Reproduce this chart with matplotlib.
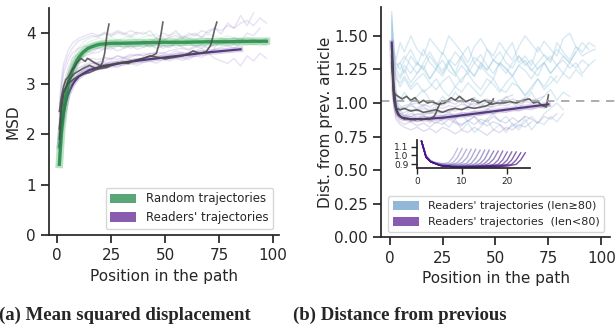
import matplotlib
matplotlib.use("Agg")
import matplotlib.pyplot as plt
from matplotlib.patches import Patch

# ---------------- data ----------------
# common sampling positions for the faint individual trajectories
GRID = [1, 2, 3, 5, 7, 10, 13, 16, 19, 22, 25, 28, 31, 34, 37, 40, 43, 46, 49,
        52, 55, 58, 61, 64, 67, 70, 73, 76, 79, 82, 85, 88, 91, 94, 97]

# (a) MSD: random trajectories
msd_random_x = [1, 2, 3, 4, 5, 6, 7, 8, 9, 10, 12, 14, 16, 18, 20, 25, 30, 40,
                50, 60, 70, 80, 90, 97]
msd_random_y = [1.40, 2.05, 2.45, 2.75, 2.97, 3.12, 3.25, 3.36, 3.45, 3.52, 3.62,
                3.69, 3.73, 3.76, 3.78, 3.80, 3.80, 3.81, 3.82, 3.82, 3.83, 3.83,
                3.84, 3.84]
msd_random_lines = [
    [1.4, 2.1, 2.5, 3.0, 3.3, 3.55, 3.7, 3.78, 3.82, 3.85, 3.8, 3.88, 3.83, 3.9, 3.85, 3.8, 3.88, 3.84,
     3.9, 3.82, 3.86, 3.9, 3.84, 3.88, 3.82, 3.9, 3.86, 3.8, 3.88, 3.85, 3.9, 3.84, 3.88, 3.8, 3.85],
    [1.4, 1.95, 2.35, 2.85, 3.2, 3.45, 3.6, 3.68, 3.72, 3.75, 3.78, 3.74, 3.8, 3.76, 3.72, 3.78, 3.74, 3.8,
     3.76, 3.72, 3.78, 3.75, 3.8, 3.74, 3.78, 3.82, 3.76, 3.8, 3.74, 3.78, 3.82, 3.76, 3.8, 3.75, 3.78],
    [1.45, 2.3, 2.7, 3.2, 3.5, 3.72, 3.85, 3.92, 3.95, 3.98, 3.94, 4.0, 3.96, 3.92, 3.98, 4.02, 3.95, 3.98,
     3.92, 3.96, 4.0, 3.94, 3.9, 3.96, 3.92, 3.98, 3.94, 3.9, 3.95, 3.9, 3.86, 3.92, 3.88, 3.84, 3.9],
    [1.4, 2.0, 2.4, 2.9, 3.25, 3.5, 3.65, 3.72, 3.7, 3.76, 3.72, 3.78, 3.7, 3.74, 3.78, 3.72, 3.76, 3.7,
     3.74, 3.78, 3.72, 3.76, 3.8, 3.74, 3.78, 3.72, 3.8, 3.76, 3.84, 3.78, 3.74, 3.8, 3.76, 3.8, 3.75],
    [1.42, 2.2, 2.6, 3.1, 3.4, 3.65, 3.78, 3.85, 3.9, 3.88, 3.92, 3.86, 3.9, 3.94, 3.88, 3.92, 3.96, 3.9,
     3.86, 3.92, 3.88, 3.94, 3.9, 3.86, 3.92, 3.88, 3.84, 3.9, 3.86, 3.92, 3.88, 3.84, 3.86, 3.82, 3.8],
    [1.4, 2.05, 2.45, 2.95, 3.3, 3.55, 3.68, 3.75, 3.8, 3.82, 3.86, 3.82, 3.78, 3.84, 3.8, 3.86, 3.82, 3.78,
     3.84, 3.8, 3.86, 3.82, 3.88, 3.84, 3.8, 3.86, 3.82, 3.88, 3.84, 3.8, 3.86, 3.82, 3.78, 3.84, 3.88],
]

# (a) MSD: readers' trajectories
msd_readers_x = [1, 2, 3, 4, 5, 6, 7, 8, 10, 12, 15, 20, 25, 30, 40, 50, 60, 70, 75, 85]
msd_readers_y = [1.75, 2.15, 2.40, 2.62, 2.78, 2.88, 2.97, 3.04, 3.14, 3.20, 3.27, 3.33,
                 3.37, 3.41, 3.47, 3.52, 3.57, 3.62, 3.64, 3.68]
msd_readers_lines = [
    [2.0, 2.6, 2.9, 3.2, 3.35, 3.5, 3.55, 3.6, 3.62, 3.7, 3.68, 3.75, 3.72, 3.8, 3.78, 3.85, 3.82, 3.9,
     3.85, 3.92, 3.95, 3.9, 4.0, 3.95, 4.05, 4.0, 4.1, 4.05, 4.15, 4.1, 4.2, 4.25, 4.15, 4.3, 4.2],
    [1.7, 2.3, 2.6, 2.95, 3.1, 3.25, 3.35, 3.4, 3.42, 3.45, 3.5, 3.48, 3.52, 3.55, 3.58, 3.55, 3.6, 3.62,
     3.6, 3.65, 3.68, 3.7, 3.66, 3.72, 3.75, 3.7, 3.78, 3.82, 3.8, 3.9, 3.85, 4.0, 3.95, 4.1],
    [2.6, 3.1, 3.4, 3.65, 3.8, 3.9, 3.95, 4.0, 3.95, 4.02, 3.98, 4.05, 4.0, 3.95, 4.02, 3.98, 4.05, 3.9,
     4.0, 3.95, 4.05, 3.9, 3.95, 4.0, 3.92, 4.05, 4.1, 3.98, 4.2, 4.1, 4.35, 4.15, 4.4],
    [1.5, 2.1, 2.5, 2.85, 3.05, 3.2, 3.3, 3.35, 3.4, 3.38, 3.45, 3.42, 3.5, 3.48, 3.45, 3.52, 3.55, 3.5,
     3.58, 3.55, 3.6, 3.62, 3.58, 3.65, 3.7, 3.62, 3.68, 3.72, 3.75, 3.7, 3.8],
    [2.3, 2.9, 3.2, 3.45, 3.6, 3.7, 3.75, 3.72, 3.8, 3.78, 3.75, 3.82, 3.78, 3.7, 3.75, 3.8, 3.72, 3.78,
     3.7, 3.75, 3.8, 3.72, 3.68, 3.75, 3.7, 3.8, 3.72, 3.85, 3.9],
    [1.8, 2.4, 2.75, 3.05, 3.2, 3.32, 3.38, 3.45, 3.42, 3.5, 3.48, 3.55, 3.5, 3.52, 3.58, 3.55, 3.6, 3.56,
     3.62, 3.58, 3.65, 3.6, 3.55, 3.62, 3.66, 3.6, 3.7],
    [1.6, 2.2, 2.55, 2.9, 3.05, 3.15, 3.2, 3.25, 3.28, 3.3, 3.35, 3.32, 3.38, 3.4, 3.36, 3.42, 3.45, 3.4,
     3.48, 3.45, 3.5, 3.46, 3.52, 3.55],
    [2.1, 2.7, 3.0, 3.3, 3.5, 3.6, 3.65, 3.62, 3.7, 3.68, 3.72, 3.65, 3.7, 3.75, 3.68, 3.72, 3.78, 3.7,
     3.75, 3.72, 3.8],
    [1.9, 2.5, 2.8, 3.1, 3.25, 3.4, 3.45, 3.5, 3.48, 3.52, 3.5, 3.55, 3.52, 3.58, 3.55, 3.6, 3.58, 3.62],
    [2.4, 3.0, 3.3, 3.55, 3.7, 3.85, 3.9, 3.95, 3.92, 4.0, 3.95, 4.02, 3.98, 4.05, 4.0],
    [1.7, 2.3, 2.65, 3.0, 3.15, 3.3, 3.35, 3.4, 3.38, 3.42, 3.4, 3.45],
    [1.6, 2.2, 2.55, 2.9, 3.05, 3.2, 3.28, 3.3, 3.35, 3.38, 3.4, 3.42, 3.4, 3.45, 3.48, 3.45, 3.5, 3.48,
     3.52, 3.5, 3.55, 3.5, 3.48, 3.55, 3.52, 3.6, 3.5, 3.45, 3.4, 3.5, 3.35, 3.55, 3.45, 3.6, 3.5],
]

# (a) three highlighted example paths (length 24, 49, 74)
msd_ex1_x = list(range(1, 25))
msd_ex1_y = [2.45, 2.75, 2.95, 3.08, 3.12, 3.2, 3.28, 3.32, 3.4, 3.45, 3.5, 3.47, 3.44, 3.5,
             3.48, 3.45, 3.42, 3.4, 3.38, 3.35, 3.42, 3.6, 3.95, 4.18]
msd_ex2_x = [1, 2, 3, 5, 8, 10, 13, 15, 18, 20, 23, 25, 28, 30, 33, 35, 38, 40, 42, 44, 46, 47, 48, 49]
msd_ex2_y = [2.1, 2.6, 2.85, 3.0, 3.1, 3.15, 3.2, 3.22, 3.28, 3.3, 3.32, 3.36, 3.4, 3.42, 3.4,
             3.45, 3.48, 3.5, 3.53, 3.55, 3.6, 3.75, 3.95, 4.22]
msd_ex3_x = [1, 2, 3, 5, 8, 10, 12, 15, 18, 20, 25, 30, 35, 40, 43, 47, 50, 54, 58, 61, 63, 66,
             69, 71, 72, 73, 74]
msd_ex3_y = [1.9, 2.5, 2.8, 3.05, 3.2, 3.25, 3.3, 3.36, 3.3, 3.35, 3.38, 3.42, 3.45, 3.5, 3.55,
             3.52, 3.49, 3.52, 3.55, 3.6, 3.65, 3.6, 3.63, 3.75, 3.9, 4.08, 4.22]

# (b) distance from previous article
RANDOM_LEVEL = 1.016
dist_long_lines = [
    [1.62, 1.35, 1.28, 1.3, 1.22, 1.35, 1.28, 1.4, 1.3, 1.25, 1.38, 1.3, 1.22, 1.35, 1.42, 1.3, 1.25, 1.4,
     1.32, 1.28, 1.38, 1.45, 1.3, 1.35, 1.28, 1.42, 1.35, 1.3, 1.45, 1.38, 1.32, 1.42, 1.35, 1.38, 1.4],
    [1.55, 1.3, 1.22, 1.18, 1.25, 1.15, 1.22, 1.28, 1.18, 1.25, 1.2, 1.3, 1.22, 1.15, 1.25, 1.2, 1.28, 1.22,
     1.18, 1.3, 1.25, 1.2, 1.28, 1.32, 1.25, 1.2, 1.3, 1.35, 1.28, 1.22, 1.3, 1.26, 1.32, 1.28],
    [1.68, 1.4, 1.32, 1.45, 1.38, 1.5, 1.4, 1.35, 1.48, 1.42, 1.36, 1.5, 1.44, 1.38, 1.3, 1.42, 1.48, 1.4,
     1.35, 1.45, 1.38, 1.32, 1.42, 1.5, 1.44, 1.38, 1.46, 1.4, 1.35, 1.48, 1.52, 1.42, 1.38, 1.45, 1.42],
    [1.5, 1.25, 1.2, 1.12, 1.18, 1.1, 1.15, 1.08, 1.12, 1.18, 1.1, 1.05, 1.12, 1.08, 1.15, 1.1, 1.05, 1.12,
     1.18, 1.1, 1.08, 1.15, 1.12, 1.05, 1.1, 1.18, 1.12, 1.2, 1.15, 1.22, 1.18, 1.25, 1.2],
    [1.6, 1.32, 1.25, 1.3, 1.35, 1.28, 1.22, 1.3, 1.38, 1.3, 1.24, 1.32, 1.28, 1.35, 1.26, 1.2, 1.3, 1.25,
     1.32, 1.28, 1.22, 1.3, 1.35, 1.28, 1.32, 1.25, 1.3, 1.22, 1.28, 1.35, 1.3, 1.38],
    [1.45, 1.15, 1.08, 1.02, 1.08, 1.0, 1.05, 1.1, 1.02, 0.98, 1.05, 1.0, 1.08, 1.02, 0.96, 1.04, 1.0, 0.95,
     1.02, 0.98, 1.05, 1.0, 0.96, 1.02, 1.08, 1.0, 1.05, 1.1, 1.02, 1.08, 1.05],
    [1.4, 1.1, 1.0, 0.95, 0.9, 0.95, 0.88, 0.92, 0.85, 0.9, 0.86, 0.82, 0.88, 0.8, 0.85, 0.78, 0.82, 0.88,
     0.8, 0.84, 0.78, 0.85, 0.82, 0.88, 0.8, 0.86, 0.84, 0.9, 0.86, 0.92],
    [1.58, 1.3, 1.25, 1.2, 1.28, 1.22, 1.3, 1.25, 1.18, 1.26, 1.32, 1.24, 1.2, 1.28, 1.22, 1.3, 1.36, 1.28,
     1.22, 1.3, 1.26, 1.2, 1.28, 1.24, 1.18, 1.26, 1.3, 1.22, 1.28, 1.32, 1.26, 1.3, 1.22, 1.28, 1.32],
    [1.52, 1.25, 1.18, 1.15, 1.2, 1.12, 1.18, 1.22, 1.15, 1.1, 1.16, 1.2, 1.12, 1.18, 1.22, 1.15, 1.1, 1.18,
     1.14, 1.08, 1.15, 1.2, 1.12, 1.06, 1.12, 1.18, 1.1, 1.15, 1.2],
    [1.65, 1.38, 1.3, 1.25, 1.32, 1.4, 1.3, 1.25, 1.35, 1.28, 1.22, 1.3, 1.38, 1.32, 1.26, 1.34, 1.3, 1.24,
     1.32, 1.38, 1.3, 1.26, 1.35, 1.3, 1.24, 1.3, 1.36, 1.32, 1.4, 1.35, 1.3, 1.38, 1.45, 1.4],
    [1.48, 1.12, 1.02, 0.98, 0.95, 1.0, 0.94, 0.98, 0.92, 0.96, 0.9, 0.94, 0.88, 0.92, 0.86, 0.9, 0.84, 0.88,
     0.92, 0.86, 0.9, 0.84, 0.8, 0.86, 0.9, 0.85, 0.92, 0.96, 1.0, 0.95],
]
dist_short_lines = [
    [1.4, 1.05, 0.95, 0.92, 0.93, 0.95, 0.94, 0.96, 0.95, 0.97, 0.96, 0.98, 0.97, 0.99, 0.98, 1.0, 0.98,
     1.01, 0.99, 1.02, 1.0, 1.03, 1.01, 1.04, 1.02, 1.03, 1.05],
    [1.38, 1.0, 0.92, 0.88, 0.87, 0.88, 0.86, 0.88, 0.87, 0.89, 0.88, 0.9, 0.89, 0.91, 0.9, 0.92, 0.91,
     0.93, 0.92, 0.94, 0.93, 0.95, 0.94, 0.96, 0.95, 0.97, 0.96, 0.98],
    [1.35, 0.98, 0.88, 0.84, 0.82, 0.8, 0.82, 0.79, 0.81, 0.78, 0.82, 0.8, 0.77, 0.8, 0.78, 0.82, 0.79,
     0.76, 0.8, 0.78, 0.82, 0.8, 0.84, 0.82, 0.86],
    [1.42, 1.04, 0.96, 0.94, 0.96, 0.98, 0.96, 0.99, 0.97, 1.0, 0.98, 1.01, 0.99, 1.02, 1.0, 0.98, 1.01,
     1.03, 1.0, 1.02, 1.04, 1.06],
    [1.4, 1.02, 0.93, 0.9, 0.89, 0.9, 0.88, 0.9, 0.89, 0.91, 0.9, 0.92, 0.91, 0.93, 0.92, 0.94, 0.93, 0.95, 0.98],
    [1.36, 1.0, 0.9, 0.86, 0.84, 0.86, 0.83, 0.85, 0.82, 0.86, 0.84, 0.88, 0.85, 0.83, 0.87, 0.84, 0.88,
     0.86, 0.9, 0.87, 0.85, 0.89, 0.86, 0.9, 0.88, 0.85, 0.9, 0.88, 0.92],
    [1.44, 1.06, 0.98, 0.96, 0.98, 0.99, 1.0, 0.98, 1.01, 1.0, 1.02, 1.01, 1.03, 1.0, 1.02, 1.04],
    [1.38, 1.02, 0.94, 0.91, 0.9, 0.92, 0.91, 0.93, 0.92, 0.94, 0.93, 0.95, 0.94, 0.96, 0.95, 0.97, 0.96,
     0.98, 0.97, 0.99, 0.98, 1.0, 0.99, 1.01, 1.0, 1.02],
    [1.4, 1.03, 0.95, 0.9, 0.88, 0.86, 0.88, 0.9, 0.87, 0.85, 0.88, 0.9, 0.86, 0.84, 0.87, 0.9, 0.86,
     0.83, 0.86, 0.84, 0.8, 0.83, 0.86, 0.9],
    [1.42, 1.04, 0.95, 0.92, 0.91, 0.9, 0.92, 0.91, 0.93, 0.92, 0.94, 0.93, 0.96],
]
dist_short_x = [1, 2, 3, 4, 5, 6, 8, 10, 13, 16, 20, 25, 30, 35, 40, 45, 50, 55, 60, 65, 70, 75]
dist_short_y = [1.45, 1.1, 0.97, 0.92, 0.9, 0.89, 0.885, 0.88, 0.88, 0.88, 0.885, 0.89, 0.9,
                0.91, 0.92, 0.93, 0.94, 0.95, 0.96, 0.97, 0.98, 0.99]

dist_ex1_x = list(range(1, 25))
dist_ex1_y = [1.42, 1.05, 0.95, 0.91, 0.9, 0.89, 0.88, 0.885, 0.88, 0.875, 0.88, 0.875, 0.88,
              0.88, 0.875, 0.88, 0.88, 0.885, 0.88, 0.89, 0.9, 0.93, 0.97, 1.0]
dist_ex2_x = [1, 2, 3, 5, 7, 10, 13, 16, 19, 22, 25, 28, 31, 34, 37, 40, 43, 46, 48, 49]
dist_ex2_y = [1.3, 1.02, 0.96, 0.95, 0.96, 0.94, 0.95, 0.93, 0.94, 0.95, 0.93, 0.95, 0.96,
              0.95, 0.97, 0.96, 0.97, 0.98, 1.0, 1.03]
dist_ex3_x = [1, 2, 3, 4, 6, 8, 10, 12, 14, 16, 18, 20, 23, 26, 29, 31, 33, 36, 39, 42, 45,
              48, 51, 54, 57, 60, 63, 66, 68, 70, 72, 74, 75]
dist_ex3_y = [1.35, 1.08, 1.06, 1.05, 1.03, 1.05, 1.02, 1.04, 1.0, 1.02, 1.0, 1.01, 0.99, 1.0,
              1.04, 1.02, 1.05, 1.01, 1.03, 1.0, 1.02, 0.99, 1.0, 1.0, 1.01, 1.0, 1.02, 1.03,
              1.0, 1.01, 0.98, 0.97, 1.06]

# inset: mean curve per path length (9 ... 24)
inset_lines = [
    [1.16, 1.00, 0.94, 0.92, 0.91, 0.91, 0.92, 0.98, 1.08],
    [1.16, 1.00, 0.94, 0.92, 0.91, 0.90, 0.90, 0.92, 0.98, 1.08],
    [1.16, 0.99, 0.94, 0.92, 0.91, 0.90, 0.90, 0.90, 0.92, 0.98, 1.07],
    [1.16, 0.99, 0.94, 0.92, 0.90, 0.90, 0.89, 0.90, 0.90, 0.92, 0.97, 1.07],
    [1.16, 0.99, 0.93, 0.91, 0.90, 0.89, 0.89, 0.89, 0.89, 0.90, 0.91, 0.97, 1.07],
    [1.16, 0.99, 0.93, 0.91, 0.90, 0.89, 0.89, 0.89, 0.88, 0.89, 0.89, 0.91, 0.97, 1.06],
    [1.16, 0.99, 0.93, 0.91, 0.90, 0.89, 0.88, 0.88, 0.88, 0.88, 0.89, 0.89, 0.91, 0.96, 1.06],
    [1.16, 0.99, 0.93, 0.91, 0.89, 0.89, 0.88, 0.88, 0.88, 0.88, 0.88, 0.88, 0.89, 0.91, 0.96, 1.06],
    [1.16, 0.99, 0.93, 0.91, 0.89, 0.88, 0.88, 0.88, 0.88, 0.88, 0.88, 0.88, 0.88, 0.89, 0.91, 0.96, 1.05],
    [1.16, 0.98, 0.93, 0.91, 0.89, 0.88, 0.88, 0.88, 0.87, 0.87, 0.88, 0.88, 0.88, 0.88, 0.89, 0.91,
     0.96, 1.05],
    [1.16, 0.98, 0.93, 0.91, 0.89, 0.88, 0.88, 0.87, 0.87, 0.87, 0.87, 0.88, 0.88, 0.88, 0.88, 0.89,
     0.90, 0.95, 1.05],
    [1.16, 0.98, 0.93, 0.91, 0.89, 0.88, 0.88, 0.87, 0.87, 0.87, 0.87, 0.87, 0.88, 0.88, 0.88, 0.88,
     0.89, 0.90, 0.95, 1.04],
    [1.16, 0.98, 0.93, 0.91, 0.89, 0.88, 0.88, 0.87, 0.87, 0.87, 0.87, 0.87, 0.87, 0.88, 0.88, 0.88,
     0.88, 0.89, 0.90, 0.95, 1.04],
    [1.16, 0.98, 0.93, 0.91, 0.89, 0.88, 0.88, 0.87, 0.87, 0.87, 0.87, 0.87, 0.87, 0.87, 0.88, 0.88,
     0.88, 0.88, 0.89, 0.90, 0.95, 1.04],
    [1.16, 0.98, 0.93, 0.91, 0.89, 0.88, 0.88, 0.87, 0.87, 0.87, 0.87, 0.87, 0.87, 0.87, 0.87, 0.88,
     0.88, 0.88, 0.88, 0.89, 0.90, 0.95, 1.03],
    [1.16, 0.98, 0.93, 0.91, 0.89, 0.88, 0.88, 0.87, 0.87, 0.87, 0.87, 0.87, 0.87, 0.87, 0.87, 0.87,
     0.87, 0.87, 0.88, 0.88, 0.89, 0.90, 0.95, 1.03],
]

# ---------------- style ----------------
plt.rcParams['font.family'] = ['DejaVu Sans']
plt.rcParams['text.color'] = '#262626'
plt.rcParams['axes.labelcolor'] = '#262626'
plt.rcParams['xtick.color'] = '#262626'
plt.rcParams['ytick.color'] = '#262626'

GRAY = '#4a4a4a'


def style_axes(ax, fs=11, ticklen=6):
    for s in ['top', 'right']:
        ax.spines[s].set_visible(False)
    for s in ['left', 'bottom']:
        ax.spines[s].set_color('#262626')
        ax.spines[s].set_linewidth(1.25)
    ax.tick_params(labelsize=fs, length=ticklen, width=1.25, direction='out')


fig = plt.figure(figsize=(6.16, 3.31), dpi=100)

# ---------------- (a) ----------------
ax1 = fig.add_axes([0.0795, 0.290, 0.3734, 0.686])
for ys in msd_readers_lines:
    ax1.plot(GRID[:len(ys)], ys, color='#9a7fcc', alpha=0.22, lw=1)
for ys in msd_random_lines:
    ax1.plot(GRID[:len(ys)], ys, color='#41ab5d', alpha=0.12, lw=1)
ax1.plot(msd_readers_x, msd_readers_y, color='#8c6bb1', alpha=0.3, lw=4)
ax1.plot(msd_readers_x, msd_readers_y, color='#3f1f70', alpha=0.85, lw=1.6)
ax1.plot(msd_random_x, msd_random_y, color='#41ab5d', alpha=0.35, lw=5.5)
ax1.plot(msd_random_x, msd_random_y, color='#238b45', alpha=0.85, lw=2.4)
for xs, ys in [(msd_ex1_x, msd_ex1_y), (msd_ex2_x, msd_ex2_y), (msd_ex3_x, msd_ex3_y)]:
    ax1.plot(xs, ys, color=GRAY, alpha=0.85, lw=1.2)
ax1.set_xlim(-3.8, 102.8)
ax1.set_ylim(0, 4.5)
ax1.set_xticks([0, 25, 50, 75, 100])
ax1.set_yticks([0, 1, 2, 3, 4])
ax1.set_xlabel('Position in the path', fontsize=11)
ax1.set_ylabel('MSD', fontsize=11)
style_axes(ax1)
ax1.legend(handles=[Patch(facecolor='#5aa677', label='Random trajectories'),
                    Patch(facecolor='#8a5cb0', label="Readers' trajectories")],
           loc='lower right', fontsize=8.5, frameon=True, edgecolor='#cccccc',
           handlelength=2.2, handleheight=0.9)

# ---------------- (b) ----------------
ax2 = fig.add_axes([0.619, 0.283, 0.371, 0.696])
for ys in dist_long_lines:
    ax2.plot(GRID[:len(ys)], ys, color='#9ecae1', alpha=0.4, lw=1)
for ys in dist_short_lines:
    ax2.plot(GRID[:len(ys)], ys, color='#a08cc8', alpha=0.3, lw=1)
ax2.plot(dist_short_x, dist_short_y, color='#8c6bb1', alpha=0.25, lw=4)
ax2.plot(dist_short_x, dist_short_y, color='#3f1f70', alpha=0.85, lw=1.6)
for xs, ys in [(dist_ex1_x, dist_ex1_y), (dist_ex2_x, dist_ex2_y), (dist_ex3_x, dist_ex3_y)]:
    ax2.plot(xs, ys, color=GRAY, alpha=0.85, lw=1.2)
ax2.axhline(RANDOM_LEVEL, xmin=0, xmax=1.03, color='#a0a0a0', ls=(0, (5, 4)), lw=1.2,
            clip_on=False)
ax2.set_xlim(-3.9, 104)
ax2.set_ylim(0, 1.715)
ax2.set_xticks([0, 25, 50, 75, 100])
ax2.set_yticks([0, 0.25, 0.5, 0.75, 1.0, 1.25, 1.5])
ax2.set_yticklabels(['0.00', '0.25', '0.50', '0.75', '1.00', '1.25', '1.50'])
ax2.set_xlabel('Position in the path', fontsize=11)
ax2.set_ylabel('Dist. from prev. article', fontsize=11, labelpad=1)
style_axes(ax2)
ax2.legend(handles=[Patch(facecolor='#93b7d6', label="Readers' trajectories (len\u226580)"),
                    Patch(facecolor='#8a5cb0', label="Readers' trajectories  (len<80)")],
           loc='lower right', fontsize=8, frameon=True, edgecolor='#cccccc',
           handlelength=2.4, handleheight=0.9)

# inset
axi = fig.add_axes([0.677, 0.4915, 0.183, 0.0855])
cmap = plt.get_cmap('Purples')
n_in = len(inset_lines)
for i, ys in enumerate(inset_lines):
    axi.plot(range(1, len(ys) + 1), ys, color=cmap(0.45 + 0.5 * i / (n_in - 1)), alpha=0.7, lw=1)
axi.set_xlim(0, 25)
axi.set_ylim(0.855, 1.175)
axi.set_xticks([0, 10, 20])
axi.set_yticks([0.9, 1.0, 1.1])
style_axes(axi, fs=6.5, ticklen=4)
axi.tick_params(width=1, pad=2)
axi.patch.set_alpha(0)

# captions
cap = dict(family=['Liberation Serif', 'DejaVu Serif'], fontweight='bold', fontsize=13.5,
           ha='center', va='center')
fig.text(0.203, 0.047, '(a) Mean squared displacement', **cap)
fig.text(0.649, 0.047, '(b) Distance from previous', **cap)

fig.savefig('out.png', dpi=100)
